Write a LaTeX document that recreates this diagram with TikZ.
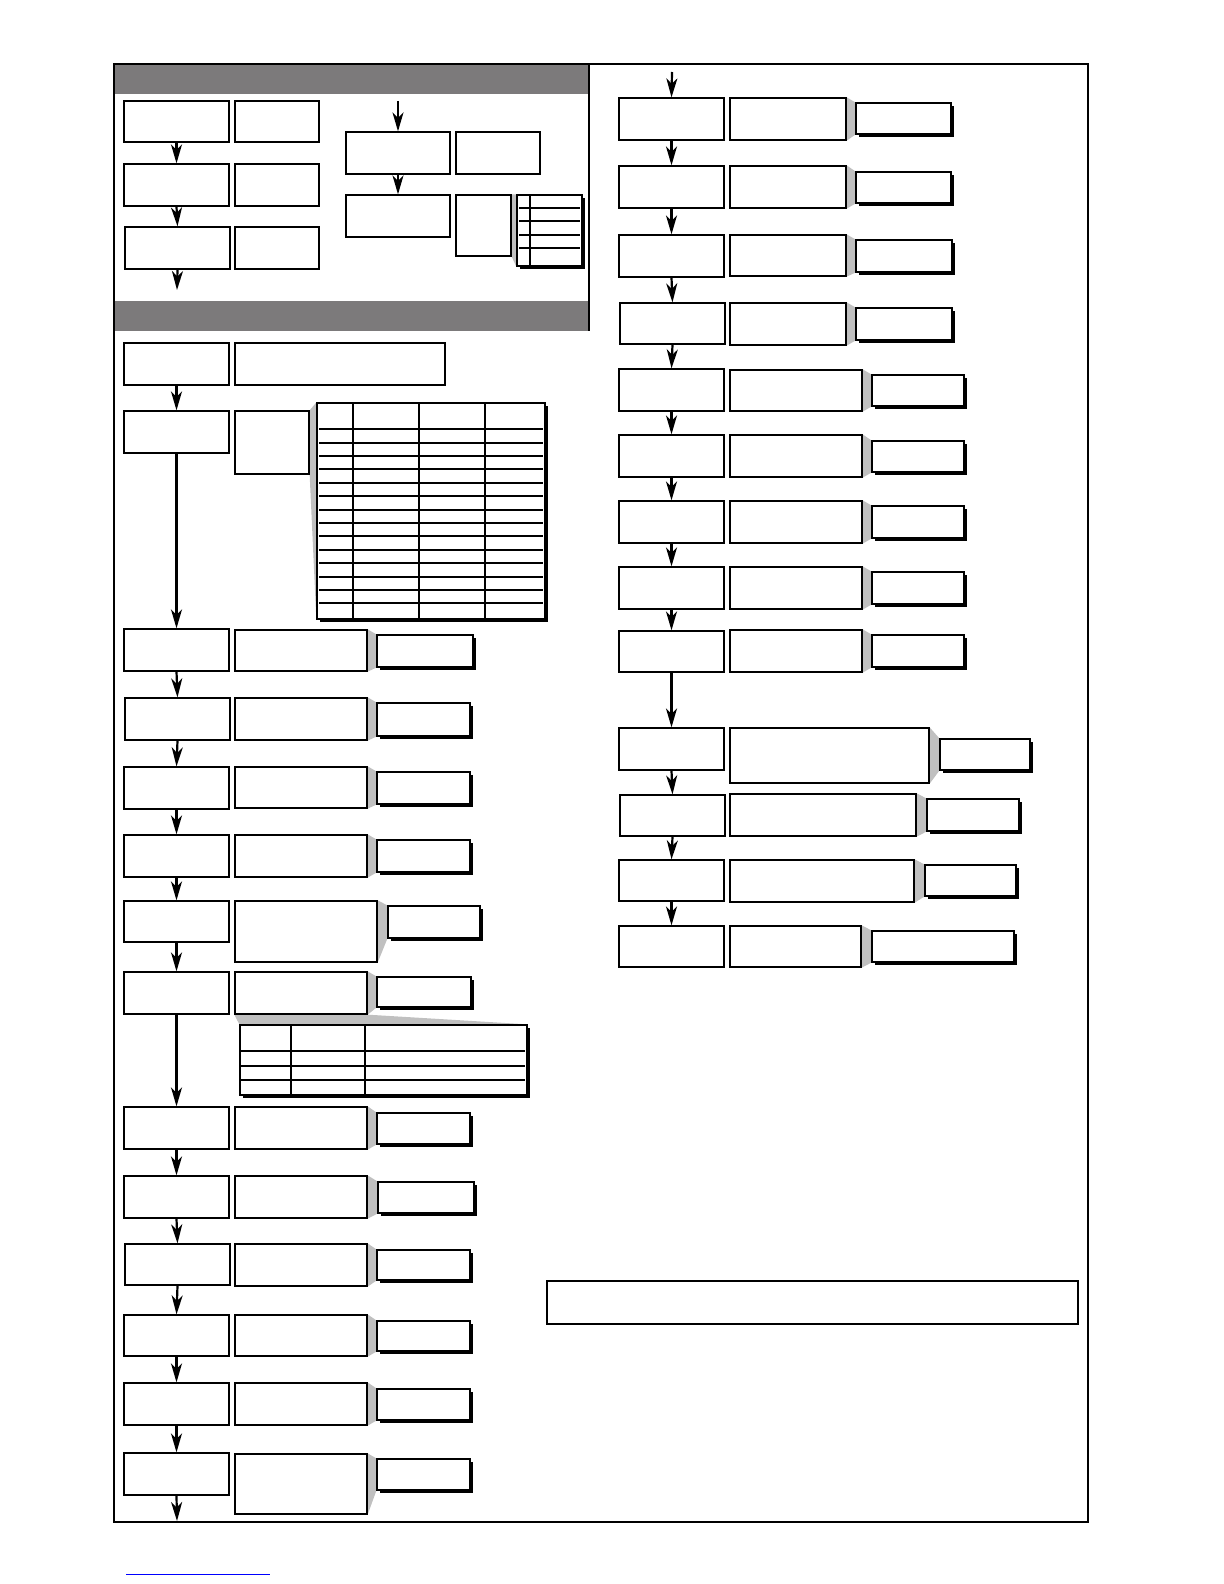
\documentclass[tikz,border=0pt]{standalone}
\usetikzlibrary{arrows.meta,fit,shadows,backgrounds}
\definecolor{hdr}{RGB}{124,122,123}
\definecolor{wdg}{RGB}{192,192,192}
\newcommand\Bx[6][box]{\node[#1, fit={(#3,#4)(#5,#6)}] (#2) {};}
\newcommand\Wg[2]{\begin{scope}[on background layer]\fill[wedge] (#1.north east) -- (#2.north west) -- (#2.south west) -- (#1.south east) -- cycle;\end{scope}}
\begin{document}
\begin{tikzpicture}[x=0.5pt,y=-0.5pt,
 box/.style={draw=black, line width=0.65pt, inner sep=0pt, fill=white},
 callout/.style={box, drop shadow={shadow xshift=1.5pt, shadow yshift=-1.5pt, fill=black, opacity=1}},
 arr/.style={line width=1.1pt, -{Stealth[length=9.5pt,width=5.5pt,inset=2.8pt]}},
 wedge/.style={fill=wdg},
 frame/.style={line width=1pt, draw=black},
 tline/.style={line width=0.6pt}]
\useasboundingbox (0,0) rectangle (1224,1584);
% frame and header bars
\fill[hdr] (114,64) rectangle (589,94);
\fill[hdr] (114,301) rectangle (589,331);
\draw[frame] (114,64) rectangle (1088,1522);
\draw[frame] (589,64) -- (589,331);
% ---------- section 1 ----------
\Bx{s1a}{124}{101}{229}{142} \Bx{s1ar}{235}{101}{319}{142}
\Bx{s1b}{124}{164}{229}{206} \Bx{s1br}{235}{164}{319}{206}
\Bx{s1c}{125}{227}{230}{269} \Bx{s1cr}{235}{227}{319}{269}
\coordinate (s1end) at (177,290);
\draw[arr] (s1a.south) -- (s1b.north);
\draw[arr] (s1b.south) -- (s1c.north);
\draw[arr] (s1c.south) -- (s1end);
\coordinate (s1top) at (398,101);
\Bx{s1d}{346}{132}{450}{174} \Bx{s1dr}{456}{132}{540}{174}
\Bx{s1e}{346}{195}{450}{237} \Bx{s1f}{456}{195}{511}{256}
\Bx[callout]{t0}{517}{195}{582}{266}
\Wg{s1f}{t0}
\draw[tline] (530,195) -- (530,266);
\foreach \yy in {208,221,235,248} \draw[tline] (519,\yy) -- (580,\yy);
\draw[arr] (s1top) -- (s1d.north);
\draw[arr] (s1d.south) -- (s1e.north);
% ---------- section 2 (left) ----------
\Bx{L1}{124}{343}{229}{385} \Bx{W1}{235}{343}{445}{385}
\Bx{L2}{124}{411}{229}{453} \Bx{L2b}{235}{411}{309}{474}
\Bx[callout]{T1}{317}{403}{545}{619}
\Wg{L2b}{T1}
\foreach \xx in {353,419,485} \draw[tline] (\xx,403) -- (\xx,619);
\foreach \yy in {429,443,456,469,483,496,510,523,536,550,563,577,590,603} \draw[tline] (319,\yy) -- (543,\yy);
\draw[arr] (L1.south) -- (L2.north);
\Bx{L3}{124}{629}{229}{671} \Bx{M3}{235}{630}{367}{671} \Bx[callout]{C3}{377}{635}{473}{667} \Wg{M3}{C3}
\Bx{L4}{125}{698}{230}{740} \Bx{M4}{235}{698}{367}{740} \Bx[callout]{C4}{377}{703}{470}{736} \Wg{M4}{C4}
\Bx{L5}{124}{767}{229}{809} \Bx{M5}{235}{767}{367}{808} \Bx[callout]{C5}{377}{772}{470}{804} \Wg{M5}{C5}
\Bx{L6}{124}{835}{229}{877} \Bx{M6}{235}{835}{367}{877} \Bx[callout]{C6}{377}{840}{470}{872} \Wg{M6}{C6}
\Bx{L7}{124}{901}{229}{942} \Bx{M7}{235}{901}{377}{962} \Bx[callout]{C7}{388}{906}{480}{938} \Wg{M7}{C7}
\Bx{L8}{124}{972}{229}{1014} \Bx{M8}{235}{972}{367}{1014} \Bx[callout]{C8}{377}{977}{471}{1007} \Wg{M8}{C8}
\Bx[callout]{T2}{240}{1025}{527}{1095}
\begin{scope}[on background layer]
\fill[wedge] (M8.south west) -- (M8.south east) -- (T2.north east) -- (T2.north west) -- cycle;
\end{scope}
\foreach \xx in {291,365} \draw[tline] (\xx,1025) -- (\xx,1095);
\foreach \yy in {1051,1066,1080} \draw[tline] (241,\yy) -- (525,\yy);
\Bx{L9}{124}{1107}{229}{1149} \Bx{M9}{235}{1107}{367}{1149} \Bx[callout]{C9}{377}{1113}{470}{1144} \Wg{M9}{C9}
\Bx{L10}{124}{1176}{229}{1218} \Bx{M10}{235}{1176}{367}{1218} \Bx[callout]{C10}{378}{1182}{474}{1213} \Wg{M10}{C10}
\Bx{L11}{125}{1244}{230}{1285} \Bx{M11}{235}{1244}{367}{1286} \Bx[callout]{C11}{377}{1250}{470}{1280} \Wg{M11}{C11}
\Bx{L12}{124}{1315}{229}{1356} \Bx{M12}{235}{1315}{367}{1356} \Bx[callout]{C12}{377}{1321}{470}{1351} \Wg{M12}{C12}
\Bx{L13}{124}{1383}{229}{1425} \Bx{M13}{235}{1383}{367}{1425} \Bx[callout]{C13}{377}{1389}{470}{1420} \Wg{M13}{C13}
\Bx{L14}{124}{1453}{229}{1495} \Bx{M14}{235}{1454}{367}{1514} \Bx[callout]{C14}{377}{1459}{470}{1490} \Wg{M14}{C14}
\coordinate (Lend) at (177,1521);
\draw[arr] (L2.south) -- (L3.north);
\draw[arr] (L3.south) -- (L4.north);
\draw[arr] (L4.south) -- (L5.north);
\draw[arr] (L5.south) -- (L6.north);
\draw[arr] (L6.south) -- (L7.north);
\draw[arr] (L7.south) -- (L8.north);
\draw[arr] (L8.south) -- (L9.north);
\draw[arr] (L9.south) -- (L10.north);
\draw[arr] (L10.south) -- (L11.north);
\draw[arr] (L11.south) -- (L12.north);
\draw[arr] (L12.south) -- (L13.north);
\draw[arr] (L13.south) -- (L14.north);
\draw[arr] (L14.south) -- (Lend);
% ---------- right column ----------
\coordinate (Rtop) at (672,72);
\Bx{R1}{619}{98}{724}{140} \Bx{RM1}{730}{98}{846}{140} \Bx[callout]{RC1}{856}{103}{951}{134} \Wg{RM1}{RC1}
\Bx{R2}{619}{166}{724}{208} \Bx{RM2}{730}{166}{846}{208} \Bx[callout]{RC2}{856}{172}{951}{203} \Wg{RM2}{RC2}
\Bx{R3}{619}{235}{724}{277} \Bx{RM3}{730}{235}{846}{276} \Bx[callout]{RC3}{856}{240}{952}{272} \Wg{RM3}{RC3}
\Bx{R4}{620}{303}{725}{344} \Bx{RM4}{730}{303}{846}{345} \Bx[callout]{RC4}{856}{308}{952}{340} \Wg{RM4}{RC4}
\Bx{R5}{619}{369}{724}{411} \Bx{RM5}{730}{370}{862}{411} \Bx[callout]{RC5}{872}{375}{964}{406} \Wg{RM5}{RC5}
\Bx{R6}{619}{435}{724}{477} \Bx{RM6}{730}{435}{862}{477} \Bx[callout]{RC6}{872}{441}{964}{472} \Wg{RM6}{RC6}
\Bx{R7}{619}{501}{724}{543} \Bx{RM7}{730}{501}{862}{543} \Bx[callout]{RC7}{872}{506}{964}{538} \Wg{RM7}{RC7}
\Bx{R8}{619}{567}{724}{609} \Bx{RM8}{730}{567}{862}{609} \Bx[callout]{RC8}{872}{572}{964}{604} \Wg{RM8}{RC8}
\Bx{R9}{619}{631}{724}{672} \Bx{RM9}{730}{630}{862}{672} \Bx[callout]{RC9}{872}{635}{964}{667} \Wg{RM9}{RC9}
\Bx{R10}{619}{728}{724}{770} \Bx{RM10}{730}{728}{929}{783} \Bx[callout]{RC10}{940}{739}{1030}{770} \Wg{RM10}{RC10}
\Bx{R11}{620}{795}{725}{836} \Bx{RM11}{730}{794}{916}{836} \Bx[callout]{RC11}{927}{799}{1019}{831} \Wg{RM11}{RC11}
\Bx{R12}{619}{860}{724}{901} \Bx{RM12}{730}{860}{914}{902} \Bx[callout]{RC12}{925}{865}{1016}{896} \Wg{RM12}{RC12}
\Bx{R13}{619}{926}{724}{967} \Bx{RM13}{730}{926}{861}{967} \Bx[callout]{RC13}{872}{931}{1014}{962} \Wg{RM13}{RC13}
\draw[arr] (Rtop) -- (R1.north);
\draw[arr] (R1.south) -- (R2.north);
\draw[arr] (R2.south) -- (R3.north);
\draw[arr] (R3.south) -- (R4.north);
\draw[arr] (R4.south) -- (R5.north);
\draw[arr] (R5.south) -- (R6.north);
\draw[arr] (R6.south) -- (R7.north);
\draw[arr] (R7.south) -- (R8.north);
\draw[arr] (R8.south) -- (R9.north);
\draw[arr] (R9.south) -- (R10.north);
\draw[arr] (R10.south) -- (R11.north);
\draw[arr] (R11.south) -- (R12.north);
\draw[arr] (R12.south) -- (R13.north);
% bottom wide box
\Bx{B1}{547}{1281}{1078}{1324}
% thin blue rule below frame
\draw[blue, line width=0.5pt] (126,1574) -- (270,1574);
\end{tikzpicture}
\end{document}
